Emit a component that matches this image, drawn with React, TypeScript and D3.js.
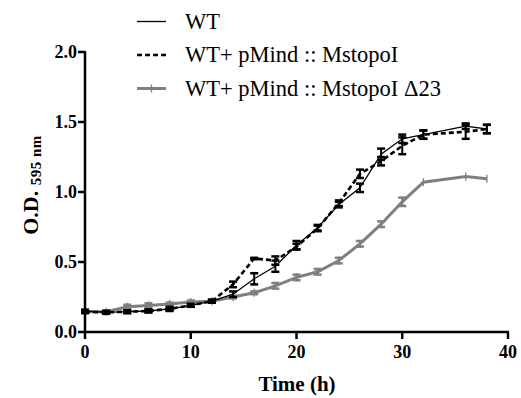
import React from 'react';
import * as d3 from 'd3';

const times = [0, 2, 4, 6, 8, 10, 12, 14, 16, 18, 20, 22, 24, 26, 28, 30, 32, 36, 38];
const wt = [0.15, 0.14, 0.145, 0.15, 0.165, 0.19, 0.22, 0.27, 0.38, 0.47, 0.62, 0.745, 0.91, 1.03, 1.27, 1.38, 1.41, 1.47, 1.45];
const wtErr = [0.01, 0.01, 0.01, 0.01, 0.015, 0.01, 0.01, 0.02, 0.04, 0.04, 0.03, 0.02, 0.02, 0.03, 0.04, 0.03, 0.03, 0.02, 0.03];
const topo = [0.145, 0.14, 0.145, 0.15, 0.165, 0.19, 0.22, 0.34, 0.525, 0.51, 0.61, 0.74, 0.92, 1.13, 1.22, 1.33, 1.41, 1.43, 1.45];
const topoErr = [0.01, 0.01, 0.01, 0.01, 0.01, 0.01, 0.01, 0.02, 0.005, 0.03, 0.02, 0.02, 0.02, 0.03, 0.03, 0.06, 0.03, 0.05, 0.03];
const d23 = [0.145, 0.145, 0.18, 0.19, 0.2, 0.215, 0.22, 0.25, 0.28, 0.33, 0.39, 0.43, 0.51, 0.63, 0.77, 0.93, 1.07, 1.11, 1.095];
const d23Err = [0.01, 0.01, 0.015, 0.015, 0.01, 0.01, 0.01, 0.01, 0.01, 0.02, 0.02, 0.02, 0.02, 0.02, 0.02, 0.03, 0, 0, 0];

const xTicks = [0, 10, 20, 30, 40];
const yTicks = [0, 0.5, 1.0, 1.5, 2.0];
const legendLabels = ['WT', 'WT+ pMind :: MstopoI', 'WT+ pMind :: MstopoI \u039423'];

const W = 521;
const H = 398;
const FONT = 'Liberation Serif';
const GRAY = '#7f7f7f';

const x = d3.scaleLinear().domain([0, 40]).range([85, 508]);
const y = d3.scaleLinear().domain([0, 2]).range([332, 52]);
const line = d3.line<number>().x((_, i) => x(times[i])).y(d => y(d));

const series = [
  { vals: d23, err: d23Err, color: GRAY, width: 3, dash: undefined, cross: true },
  { vals: topo, err: topoErr, color: '#000', width: 2.6, dash: '5,3', cross: false },
  { vals: wt, err: wtErr, color: '#000', width: 1.3, dash: undefined, cross: false },
];
// legend order differs from draw order
const legendOrder = [2, 1, 0];

export default function App() {
  return (
    <svg width={W} height={H} style={{ position: 'absolute', left: 0, top: 0, background: '#fff' }}>
      {series.map((s, si) => (
        <g key={si}>
          <path d={line(s.vals) || ''} fill="none" stroke={s.color} strokeWidth={s.width} strokeDasharray={s.dash} />
          {s.vals.map((v, i) => {
            const cx = x(times[i]);
            const e = s.err[i];
            return (
              <g key={i}>
                {e > 0 && (
                  <>
                    <line x1={cx} x2={cx} y1={y(v - e)} y2={y(v + e)} stroke={s.color} strokeWidth={2} />
                    <line x1={cx - 4} x2={cx + 4} y1={y(v - e)} y2={y(v - e)} stroke={s.color} strokeWidth={2.5} />
                    <line x1={cx - 4} x2={cx + 4} y1={y(v + e)} y2={y(v + e)} stroke={s.color} strokeWidth={2.5} />
                  </>
                )}
                {s.cross && (
                  <line x1={cx} x2={cx} y1={y(v) - 4} y2={y(v) + 4} stroke={s.color} strokeWidth={1.3} />
                )}
              </g>
            );
          })}
        </g>
      ))}

      {/* axes */}
      <line x1={x(0)} x2={x(0)} y1={y(0) + 1} y2={y(2) - 1} stroke="#000" strokeWidth={2.5} />
      <line x1={x(0) - 1} x2={x(40) + 1} y1={y(0)} y2={y(0)} stroke="#000" strokeWidth={2.5} />
      {yTicks.map(t => (
        <g key={t}>
          <line x1={x(0) - 7} x2={x(0)} y1={y(t)} y2={y(t)} stroke="#000" strokeWidth={2.5} />
          <text x={x(0) - 8} y={y(t) + 6} textAnchor="end" style={{ fontFamily: FONT, fontSize: 18, fontWeight: 'bold' }}>
            {t.toFixed(1)}
          </text>
        </g>
      ))}
      {xTicks.map(t => (
        <g key={t}>
          <line x1={x(t)} x2={x(t)} y1={y(0)} y2={y(0) + 7} stroke="#000" strokeWidth={2.5} />
          <text x={x(t)} y={y(0) + 26} textAnchor="middle" style={{ fontFamily: FONT, fontSize: 18, fontWeight: 'bold' }}>
            {t}
          </text>
        </g>
      ))}
      <text x={297} y={391} textAnchor="middle" style={{ fontFamily: FONT, fontSize: 21, fontWeight: 'bold' }}>
        Time (h)
      </text>
      <text transform="translate(38,185) rotate(-90)" textAnchor="middle" style={{ fontFamily: FONT, fontWeight: 'bold' }}>
        <tspan style={{ fontSize: 22 }}>O.D. </tspan>
        <tspan style={{ fontSize: 15, letterSpacing: 0.5 }} dy={3}>595 nm</tspan>
      </text>

      {/* legend */}
      {legendLabels.map((lab, i) => {
        const s = series[legendOrder[i]];
        const ly = 21.5 + i * 33.5;
        return (
          <g key={lab}>
            <line x1={137} x2={166} y1={ly} y2={ly} stroke={s.color} strokeWidth={s.width} strokeDasharray={s.dash} />
            {s.cross && <line x1={151.5} x2={151.5} y1={ly - 4} y2={ly + 4} stroke={s.color} strokeWidth={1.3} />}
            <text x={185} y={ly + 7} style={{ fontFamily: FONT, fontSize: 22.5 }}>
              {lab}
            </text>
          </g>
        );
      })}
    </svg>
  );
}
